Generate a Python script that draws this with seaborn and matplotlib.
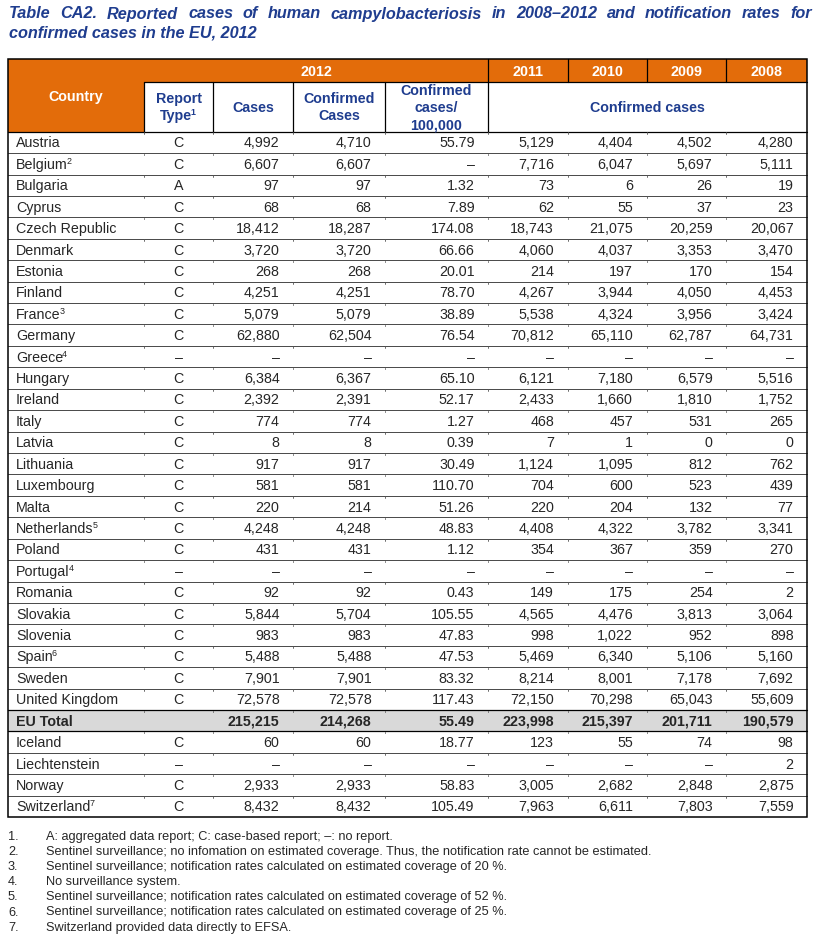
import matplotlib
matplotlib.use("Agg")
import matplotlib.pyplot as plt
from matplotlib.patches import Rectangle
import seaborn as sns

# Table data
countries = ["Austria", "Belgium", "Bulgaria", "Cyprus", "Czech Republic", "Denmark", "Estonia",
             "Finland", "France", "Germany", "Greece", "Hungary", "Ireland", "Italy", "Latvia",
             "Lithuania", "Luxembourg", "Malta", "Netherlands", "Poland", "Portugal", "Romania",
             "Slovakia", "Slovenia", "Spain", "Sweden", "United Kingdom", "EU Total", "Iceland",
             "Liechtenstein", "Norway", "Switzerland"]
footnote_marks = {"Belgium": "2", "France": "3", "Greece": "4", "Netherlands": "5",
                  "Portugal": "4", "Spain": "6", "Switzerland": "7"}
report_type = ["C", "C", "A", "C", "C", "C", "C", "C", "C", "C", "–", "C", "C", "C", "C", "C",
               "C", "C", "C", "C", "–", "C", "C", "C", "C", "C", "C", "", "C", "–", "C", "C"]
cases_2012 = [4992, 6607, 97, 68, 18412, 3720, 268, 4251, 5079, 62880, None, 6384, 2392, 774, 8,
              917, 581, 220, 4248, 431, None, 92, 5844, 983, 5488, 7901, 72578, 215215, 60, None,
              2933, 8432]
confirmed_2012 = [4710, 6607, 97, 68, 18287, 3720, 268, 4251, 5079, 62504, None, 6367, 2391, 774,
                  8, 917, 581, 214, 4248, 431, None, 92, 5704, 983, 5488, 7901, 72578, 214268, 60,
                  None, 2933, 8432]
rate_2012 = [55.79, None, 1.32, 7.89, 174.08, 66.66, 20.01, 78.70, 38.89, 76.54, None, 65.10,
             52.17, 1.27, 0.39, 30.49, 110.70, 51.26, 48.83, 1.12, None, 0.43, 105.55, 47.83,
             47.53, 83.32, 117.43, 55.49, 18.77, None, 58.83, 105.49]
confirmed_2011 = [5129, 7716, 73, 62, 18743, 4060, 214, 4267, 5538, 70812, None, 6121, 2433, 468,
                  7, 1124, 704, 220, 4408, 354, None, 149, 4565, 998, 5469, 8214, 72150, 223998,
                  123, None, 3005, 7963]
confirmed_2010 = [4404, 6047, 6, 55, 21075, 4037, 197, 3944, 4324, 65110, None, 7180, 1660, 457,
                  1, 1095, 600, 204, 4322, 367, None, 175, 4476, 1022, 6340, 8001, 70298, 215397,
                  55, None, 2682, 6611]
confirmed_2009 = [4502, 5697, 26, 37, 20259, 3353, 170, 4050, 3956, 62787, None, 6579, 1810, 531,
                  0, 812, 523, 132, 3782, 359, None, 254, 3813, 952, 5106, 7178, 65043, 201711,
                  74, None, 2848, 7803]
confirmed_2008 = [4280, 5111, 19, 23, 20067, 3470, 154, 4453, 3424, 64731, None, 5516, 1752, 265,
                  0, 762, 439, 77, 3341, 270, None, 2, 3064, 898, 5160, 7692, 55609, 190579, 98,
                  2, 2875, 7559]

title_line1 = "Table CA2. Reported cases of human campylobacteriosis in 2008–2012 and notification rates for"
title_line2 = "confirmed cases in the EU, 2012"
footnotes = [
    "A: aggregated data report; C: case-based report; –: no report.",
    "Sentinel surveillance; no infomation on estimated coverage. Thus, the notification rate cannot be estimated.",
    "Sentinel surveillance; notification rates calculated on estimated coverage of 20 %.",
    "No surveillance system.",
    "Sentinel surveillance; notification rates calculated on estimated coverage of 52 %.",
    "Sentinel surveillance; notification rates calculated on estimated coverage of 25 %.",
    "Switzerland provided data directly to EFSA.",
]

sns.set_theme(style="white")
plt.rcParams["font.family"] = ["Liberation Sans", "DejaVu Sans"]

ORANGE = "#E36C0A"
BLUE = "#1F3D8F"
GREY = "#D9D9D9"
FS = 10.3
TFS = 11.7

fig = plt.figure(figsize=(8.22, 9.35), dpi=100)
ax = fig.add_axes([0, 0, 1, 1])
ax.set_xlim(0, 822)
ax.set_ylim(935, 0)
ax.axis("off")
renderer = fig.canvas.get_renderer()


def text_width(s, **kw):
    t = ax.text(0, 0, s, **kw)
    w = t.get_window_extent(renderer).width
    t.remove()
    return w


# layout in pixels
col_x = [7.7, 144, 213, 293, 385, 488, 567.5, 646.5, 726, 807]
top, year_bot, head_bot = 59.3, 81.7, 131.7
row_h = 21.42
n_rows = len(countries)
bottom = head_bot + n_rows * row_h
BASE = 5.0  # baseline offset from row centre

# title (first line justified)
title_kw = dict(fontsize=TFS, fontweight="bold", fontstyle="italic")
words = title_line1.split(" ")
widths = [text_width(w, **title_kw) for w in words]
gap = (812 - 9 - sum(widths)) / (len(words) - 1)
x = 9
for w, wd in zip(words, widths):
    ax.text(x, 18.5, w, color=BLUE, va="baseline", **title_kw)
    x += wd + gap
ax.text(9, 37, title_line2, color=BLUE, va="baseline", **title_kw)

# header fills
ax.add_patch(Rectangle((col_x[0], top), col_x[1] - col_x[0], head_bot - top, color=ORANGE, lw=0))
ax.add_patch(Rectangle((col_x[1], top), col_x[-1] - col_x[1], year_bot - top, color=ORANGE, lw=0))

# EU total row fill
eu_idx = countries.index("EU Total")
ax.add_patch(Rectangle((col_x[0], head_bot + eu_idx * row_h), col_x[-1] - col_x[0], row_h,
                       color=GREY, lw=0))

# header lines
line_kw = dict(color="black", lw=0.9)
ax.plot([col_x[1], col_x[-1]], [year_bot, year_bot], **line_kw)
ax.plot([col_x[0], col_x[-1]], [head_bot, head_bot], **line_kw)
for cx in col_x[1:6]:
    ax.plot([cx, cx], [year_bot, head_bot], **line_kw)
for cx in col_x[5:9]:
    ax.plot([cx, cx], [top, year_bot], **line_kw)

# row lines
for i in range(1, n_rows):
    y = head_bot + i * row_h
    lw = 0.9 if i in (eu_idx, eu_idx + 1) else 0.5
    ax.plot([col_x[0], col_x[-1]], [y, y], color="black", lw=lw)
# small ticks at column junctions
for i in range(1, n_rows + 1):
    y = head_bot + (i - 1) * row_h
    for cx in col_x[1:-1]:
        ax.plot([cx, cx], [y + 0.5, y + 2.0], color="#555555", lw=0.6)

# outer border
ax.add_patch(Rectangle((col_x[0], top), col_x[-1] - col_x[0], bottom - top, fill=False,
                       edgecolor="black", lw=1.1))

# header texts
hd_kw = dict(color="white", fontweight="bold", fontsize=FS, ha="center", va="baseline")
ax.text((col_x[0] + col_x[1]) / 2, 96 + BASE, "Country", **hd_kw)
ax.text((col_x[1] + col_x[5]) / 2, 71 + BASE, "2012", **hd_kw)
for k, yr in enumerate(["2011", "2010", "2009", "2008"]):
    ax.text((col_x[5 + k] + col_x[6 + k]) / 2, 71 + BASE, yr, **hd_kw)
sub_kw = dict(color=BLUE, fontweight="bold", fontsize=FS, ha="center", va="baseline")
ax.text((col_x[1] + col_x[2]) / 2, 98 + BASE, "Report", **sub_kw)
# "Type" with superscript 1
w_type = text_width("Type", fontsize=FS, fontweight="bold")
w_sup = text_width("1", fontsize=FS * 0.62, fontweight="bold")
x0 = (col_x[1] + col_x[2]) / 2 - (w_type + w_sup) / 2
ax.text(x0, 115 + BASE, "Type", color=BLUE, fontweight="bold", fontsize=FS, va="baseline")
ax.text(x0 + w_type - 1.2, 115 + BASE - 5, "1", color=BLUE, fontweight="bold",
        fontsize=FS * 0.62, va="baseline")
ax.text((col_x[2] + col_x[3]) / 2, 107 + BASE, "Cases", **sub_kw)
ax.text((col_x[3] + col_x[4]) / 2, 98 + BASE, "Confirmed", **sub_kw)
ax.text((col_x[3] + col_x[4]) / 2, 115 + BASE, "Cases", **sub_kw)
ax.text((col_x[4] + col_x[5]) / 2, 90 + BASE, "Confirmed", **sub_kw)
ax.text((col_x[4] + col_x[5]) / 2, 107 + BASE, "cases/", **sub_kw)
ax.text((col_x[4] + col_x[5]) / 2, 124 + BASE, "100,000", **sub_kw)
ax.text((col_x[5] + col_x[-1]) / 2, 107 + BASE, "Confirmed cases", **sub_kw)


def fmt_int(v):
    return "–" if v is None else f"{v:,}"


def fmt_rate(v):
    return "–" if v is None else f"{v:.2f}"


columns = [(cases_2012, fmt_int), (confirmed_2012, fmt_int), (rate_2012, fmt_rate),
           (confirmed_2011, fmt_int), (confirmed_2010, fmt_int), (confirmed_2009, fmt_int),
           (confirmed_2008, fmt_int)]

for i, name in enumerate(countries):
    yb = head_bot + (i + 0.5) * row_h + BASE
    weight = "bold" if name == "EU Total" else "normal"
    ax.text(16, yb, name, fontsize=FS, fontweight=weight, ha="left", va="baseline")
    if name in footnote_marks:
        wn = text_width(name, fontsize=FS)
        ax.text(16 + wn - 1.2, yb - 5, footnote_marks[name], fontsize=FS * 0.62,
                va="baseline")
    ax.text((col_x[1] + col_x[2]) / 2, yb, report_type[i], fontsize=FS, ha="center",
            va="baseline")
    for j, (vals, f) in enumerate(columns):
        ax.text(col_x[3 + j] - 13.5, yb, f(vals[i]), fontsize=FS, fontweight=weight,
                ha="right", va="baseline")

# footnotes
for k, note in enumerate(footnotes):
    y = 836 + k * 15.1 + 4
    ax.text(8, y, f"{k + 1}.", fontsize=9.2, va="baseline")
    ax.text(46, y, note, fontsize=9.2, va="baseline")

fig.savefig("out.png", dpi=100)
